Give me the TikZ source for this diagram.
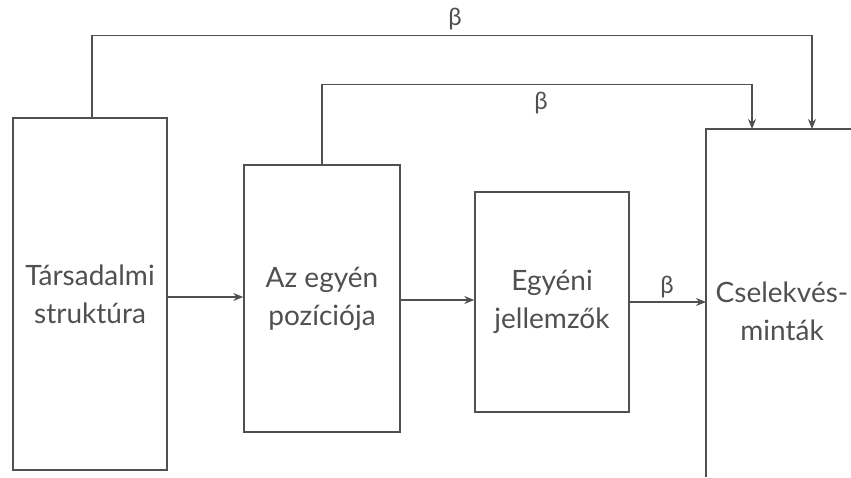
\documentclass[tikz,border=0pt]{standalone}
\usepackage{fontspec}
\setmainfont{Lato}
\usetikzlibrary{arrows.meta}
\definecolor{ink}{HTML}{505050}
\begin{document}
\begin{tikzpicture}[x=1pt,y=-1pt,
  box/.style={draw=ink,line width=1.4pt,inner sep=0pt,align=center,text=ink,
    font=\fontsize{28}{38}\selectfont},
  lbl/.style={text=ink,font=\fontsize{24}{28}\selectfont,inner sep=0pt},
  arr/.style={draw=ink,line width=1.3pt,-{Stealth[length=10pt,width=8pt]}},
  ln/.style={draw=ink,line width=1.4pt}]
\useasboundingbox (0,0) rectangle (851,477);
\node[box,minimum width=154pt,minimum height=352pt] (b1) at (90,294) {Társadalmi\\struktúra};
\node[box,minimum width=156pt,minimum height=267pt] (b2) at (322,298.5) {Az egyén\\pozíciója};
\node[box,minimum width=154pt,minimum height=220pt] (b3) at (552,302) {Egyéni\\jellemzők};
\node[box,draw=none] (b4) at (782,311) {Cselekvés-\\minták};
\coordinate (c4tl) at (706,129);
\coordinate (c4tr) at (851,129);
\coordinate (c4bl) at (706,477);
\coordinate (t4a) at (752,129);
\coordinate (t4b) at (812,129);
\draw[ln] (c4tr) -- (c4tl) -- (c4bl);
\draw[arr] (b1.east |- 0,297) -- (b2.west |- 0,297);
\draw[arr] (b2.east |- 0,300) -- (b3.west |- 0,300);
\draw[arr] (b3.east |- 0,302) -- (c4tl |- 0,302);
\draw[arr] ([xshift=2pt]b1.north) -- ++(0,-82) -| (t4b);
\draw[arr] (b2.north) -- ++(0,-80) -| (t4a);
\node[lbl] (beta1) at (455,19) {β};
\node[lbl] (beta2) at (541,103) {β};
\node[lbl] (beta3) at (667,287) {β};
\end{tikzpicture}
\end{document}
